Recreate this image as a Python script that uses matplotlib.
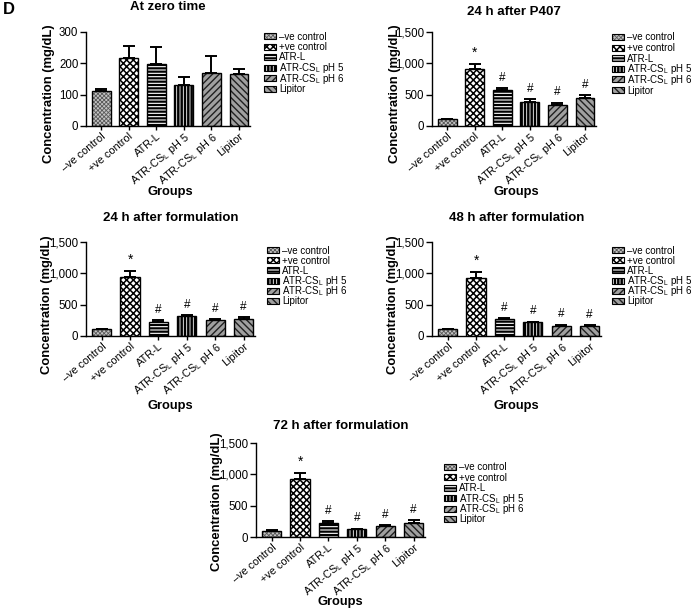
import matplotlib
matplotlib.use("Agg")
import matplotlib.pyplot as plt
from matplotlib.ticker import FuncFormatter
from matplotlib.patches import Rectangle
from matplotlib.colors import to_rgba
import numpy as np

plt.rcParams['font.family'] = ['Liberation Sans', 'DejaVu Sans']
plt.rcParams['mathtext.fontset'] = 'custom'
plt.rcParams['mathtext.rm'] = 'Liberation Sans'
plt.rcParams['mathtext.it'] = 'Liberation Sans:italic'
plt.rcParams['mathtext.bf'] = 'Liberation Sans:bold'

# ---------------- data ----------------
groups = ['–ve control', '+ve control', 'ATR-L',
          r'ATR-CS$_\mathregular{L}$ pH 5', r'ATR-CS$_\mathregular{L}$ pH 6', 'Lipitor']
legend_labels = ['–ve control', '+ve control', 'ATR-L',
                 r'ATR-CS$_\mathregular{L}$ pH 5', r'ATR-CS$_\mathregular{L}$ pH 6', 'Lipitor']

titles = ['At zero time', '24 h after P407', '24 h after formulation',
          '48 h after formulation', '72 h after formulation']

mean_zero = [112, 216, 197, 130, 170, 165]
err_zero = [5, 40, 54, 25, 52, 18]

mean_p407 = [107, 905, 573, 386, 332, 445]
err_p407 = [8, 80, 27, 48, 43, 48]

mean_f24 = [107, 948, 230, 316, 252, 268]
err_f24 = [6, 97, 22, 21, 21, 32]

mean_f48 = [107, 932, 273, 220, 166, 166]
err_f48 = [6, 96, 16, 10, 16, 11]

mean_f72 = [102, 921, 230, 123, 177, 230]
err_f72 = [6, 97, 27, 11, 10, 38]

sig_zero = ['', '', '', '', '', '']
sig_other = ['', '*', '#', '#', '#', '#']

ylims = [300, 1500, 1500, 1500, 1500]
yticks_small = [0, 100, 200, 300]
yticks_big = [0, 500, 1000, 1500]

# ---------------- styles ----------------
faces = ['#c4c4c4', 'white', 'white', 'white', '#a0a0a0', '#a0a0a0']
hatches = ['xxxxxxxx', 'xxxxx', '-----', '|||||', '/////', '\\\\\\\\\\']
hatch_cols = ['#5a5a5a', 'black', 'black', 'black', '#202020', '#202020']
hatch_lws = [0.6, 1.1, 1.6, 1.8, 1.0, 1.0]

W, H = 692, 612
fig = plt.figure(figsize=(W / 100, H / 100), dpi=100)


def fx(px):
    return px / W


def fy(py):
    return 1 - py / H


def px_axes(l, t, r, b):
    return fig.add_axes([l / W, (H - b) / H, (r - l) / W, (b - t) / H])


def styled(patch, j):
    patch.set_hatch(hatches[j])
    patch._hatch_color = to_rgba(hatch_cols[j])
    patch._hatch_linewidth = hatch_lws[j]


# layout (pixels)
boxes = [(86, 32, 250, 126), (432, 32, 596, 126),
         (86, 242, 255, 336), (432, 242, 601, 336),
         (256, 443, 425, 537)]
legend_pos = [(264, 36), (612, 37), (267, 250), (612, 250), (444, 467)]
legend_step = [10.5, 10.6, 10.2, 10.2, 10.4]
title_base = [10, 15, 220.5, 220.5, 429]
ylabel_pos = [(49, 94), (395, 94), (47, 305), (393, 305), (217, 502)]
xlabel_pos = [(170, 192), (516, 192), (170, 406), (516, 406), (340, 602)]

panels = [(mean_zero, err_zero, sig_zero), (mean_p407, err_p407, sig_other),
          (mean_f24, err_f24, sig_other), (mean_f48, err_f48, sig_other),
          (mean_f72, err_f72, sig_other)]

x = np.arange(len(groups))
for i, ((means, errs, sigs), box) in enumerate(zip(panels, boxes)):
    ax = px_axes(*box)
    for j in range(len(groups)):
        b = ax.bar(x[j], means[j], width=0.68, color=faces[j], edgecolor='black',
                   linewidth=1.0, zorder=2)
        styled(b[0], j)
    ax.errorbar(x, means, yerr=[np.zeros(len(errs)), errs], fmt='none',
                ecolor='black', elinewidth=1.4, capsize=4, capthick=1.4, zorder=3)
    for j, s in enumerate(sigs):
        if s:
            ax.annotate(s, (x[j], means[j] + errs[j]), xytext=(0, 3),
                        textcoords='offset points', ha='center', va='bottom',
                        fontsize=8.5 if s == '#' else 10)
    ax.set_xlim(-0.55, 5.4)
    ax.set_ylim(0, ylims[i])
    ax.set_yticks(yticks_small if ylims[i] == 300 else yticks_big)
    ax.yaxis.set_major_formatter(FuncFormatter(lambda v, p: f'{v:,.0f}'))
    ax.set_xticks(x)
    ax.set_xticklabels(groups, rotation=40, ha='right', va='top',
                       rotation_mode='anchor', fontsize=7.8)
    ax.tick_params(axis='y', labelsize=8.3, length=4, width=1.0, pad=1.5)
    ax.tick_params(axis='x', length=3, width=1.0, pad=0.5)
    for sp in ['top', 'right']:
        ax.spines[sp].set_visible(False)
    for sp in ['left', 'bottom']:
        ax.spines[sp].set_linewidth(1.0)

    cx = (box[0] + box[2]) / 2
    fig.text(fx(cx), fy(title_base[i]), titles[i], fontsize=9.5,
             fontweight='bold', ha='center', va='baseline')
    ylx, yly = ylabel_pos[i]
    fig.text(fx(ylx), fy(yly), 'Concentration (mg/dL)', fontsize=9.4,
             fontweight='bold', rotation=90, ha='center', va='center')
    xlx, xly = xlabel_pos[i]
    fig.text(fx(xlx), fy(xly), 'Groups', fontsize=9.3, fontweight='bold',
             ha='center', va='center')

    # legend
    lx, ly = legend_pos[i]
    for j, lab in enumerate(legend_labels):
        rc = ly + j * legend_step[i]
        r = Rectangle((fx(lx), fy(rc + 3)), 12 / W, 6 / H, transform=fig.transFigure,
                      facecolor=faces[j], edgecolor='black', linewidth=0.8)
        styled(r, j)
        fig.add_artist(r)
        fig.text(fx(lx + 15), fy(rc + 3.5), lab, fontsize=7.0, ha='left',
                 va='baseline')

fig.text(fx(3), fy(2), 'D', fontsize=12, fontweight='bold', ha='left', va='top')

fig.savefig('out.png', dpi=100)
